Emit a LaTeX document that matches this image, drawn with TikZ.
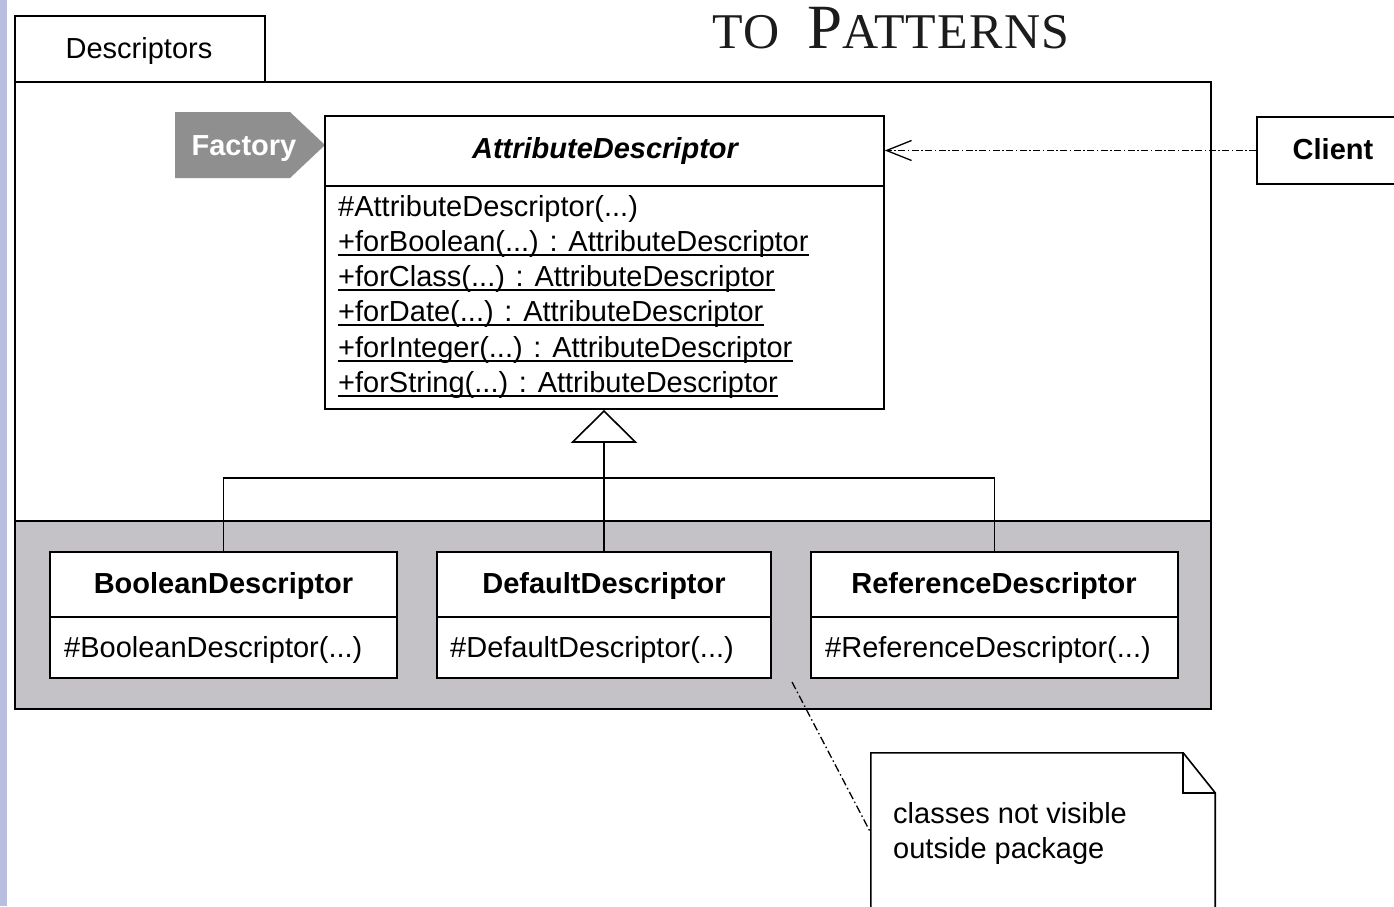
\documentclass[tikz,border=0pt]{standalone}
\usepackage{fontspec}
\setmainfont{Liberation Sans}
\newfontfamily\brandfont[LetterSpace=2.5]{Liberation Serif}
\usetikzlibrary{arrows.meta,calc}

\definecolor{hiddenfill}{RGB}{196,194,199}
\definecolor{tagfill}{RGB}{143,143,143}
\definecolor{marginblue}{RGB}{186,190,222}
\definecolor{inkdark}{RGB}{28,28,28}

\tikzset{
  umlfont/.style={font=\fontsize{29}{35}\selectfont},
  umlbold/.style={font=\fontsize{29}{35}\selectfont\bfseries},
  umlbolditalic/.style={font=\fontsize{29}{35}\selectfont\bfseries\itshape},
  frame/.style={draw=black, line width=1.6pt},
  box/.style={frame, fill=white, rectangle, inner sep=0pt},
  txt/.style={umlfont, inner sep=0pt, anchor=base west},
  ctitle/.style={umlbold, inner sep=0pt, anchor=base},
  oprule/.style={line width=1.3pt},
  depline/.style={line width=1.3pt, dash pattern=on 7pt off 2.5pt on 1.5pt off 2.5pt},
  noteline/.style={line width=1.3pt, dash pattern=on 8pt off 3pt on 1.5pt off 3pt},
}

\begin{document}
\begin{tikzpicture}[x=1pt, y=-1pt]
\useasboundingbox (0,0) rectangle (1394,906);
\fill[white] (0,0) rectangle (1394,906);
\fill[marginblue] (0,0) rectangle (7,906);

% brand lettering at the top
\node[font=\brandfont\fontsize{63}{63}\selectfont, text=inkdark, inner sep=0pt, anchor=base west] (brand) at (712,48)
  {{\fontsize{50}{50}\selectfont TO}\hspace{28pt}P{\fontsize{50}{50}\selectfont ATTERNS}};

% package Descriptors
\node[box, minimum width=1196pt, minimum height=627pt] (pkg) at (613,395.5) {};
\node[box, fill=hiddenfill, minimum width=1196pt, minimum height=188pt] (hidden) at (613,615) {};
\node[box, minimum width=250pt, minimum height=66pt] (tab) at (140,49) {};
\node[umlfont, inner sep=0pt, anchor=base] (tabname) at (139,58) {Descriptors};

% Factory tag
\fill[tagfill] (175,112) -- (290,112) -- (325,145) -- (290,178) -- (175,178) -- cycle;
\node[umlbold, text=white, inner sep=0pt, anchor=base] (factory) at (244,155) {Factory};

% AttributeDescriptor
\node[box, minimum width=559pt, minimum height=293pt] (ad) at (604.5,262.5) {};
\coordinate (adsep) at (0,186);
\draw[frame] (ad.west |- adsep) -- (ad.east |- adsep);
\node[umlbolditalic, inner sep=0pt, anchor=base] (adname) at (605,158) {AttributeDescriptor};
\node[txt] (op1) at (338,216) {\#AttributeDescriptor(...)};
\node[txt] (op2) at (338,251) {+forBoolean(...) : AttributeDescriptor};
\node[txt] (op3) at (338,286) {+forClass(...) : AttributeDescriptor};
\node[txt] (op4) at (338,321) {+forDate(...) : AttributeDescriptor};
\node[txt] (op5) at (338,357) {+forInteger(...) : AttributeDescriptor};
\node[txt] (op6) at (338,392) {+forString(...) : AttributeDescriptor};
\foreach \i in {2,...,6}
  \draw[oprule] ($(op\i.base west)+(0,4)$) -- ($(op\i.base east)+(0,4)$);

% concrete descriptors
\coordinate (subsep) at (0,617);
\node[box, minimum width=347pt, minimum height=126pt] (bool) at (223.5,615) {};
\node[box, minimum width=334pt, minimum height=126pt] (def) at (604,615) {};
\node[box, minimum width=367pt, minimum height=126pt] (ref) at (994.5,615) {};
\foreach \c in {bool,def,ref}
  \draw[frame] (\c.west |- subsep) -- (\c.east |- subsep);
\node[ctitle] (boolname) at (223.5,593) {BooleanDescriptor};
\node[ctitle] (defname) at (604,593) {DefaultDescriptor};
\node[ctitle] (refname) at (994,593) {ReferenceDescriptor};
\node[txt] (boolop) at (64,657) {\#BooleanDescriptor(...)};
\node[txt] (defop) at (450,657) {\#DefaultDescriptor(...)};
\node[txt] (refop) at (825,657) {\#ReferenceDescriptor(...)};

% generalization
\coordinate (junc) at (604,478);
\draw[frame] (bool.north) |- (junc) -| (ref.north);
\draw[frame, -{Triangle[open, length=33pt, width=66pt]}] (def.north) -- (def.north |- ad.south);

% Client and its dependency
\node[box, minimum width=150pt, minimum height=67pt] (client) at (1332,150.5) {};
\node[ctitle] (clientname) at (1333,159) {Client};
\draw[depline, -{Straight Barb[length=25pt, width=20pt]}] (client.west) -- (client.west -| ad.east);

% note
\node[inner sep=0pt, minimum width=344pt, minimum height=160pt] (note) at (1043,833) {};
\draw[frame, fill=white] (note.south west) -- (note.north west) -- ($(note.north east)+(-32,0)$)
  -- ($(note.north east)+(0,40)$) -- (note.south east);
\draw[frame] ($(note.north east)+(-32,0)$) |- ($(note.north east)+(0,40)$);
\node[txt] (notel1) at (893,823) {classes not visible};
\node[txt] (notel2) at (893,858) {outside package};
\coordinate (hiddenlink) at (792,682);
\draw[noteline] (hiddenlink) -- (note.west);
\end{tikzpicture}
\end{document}
